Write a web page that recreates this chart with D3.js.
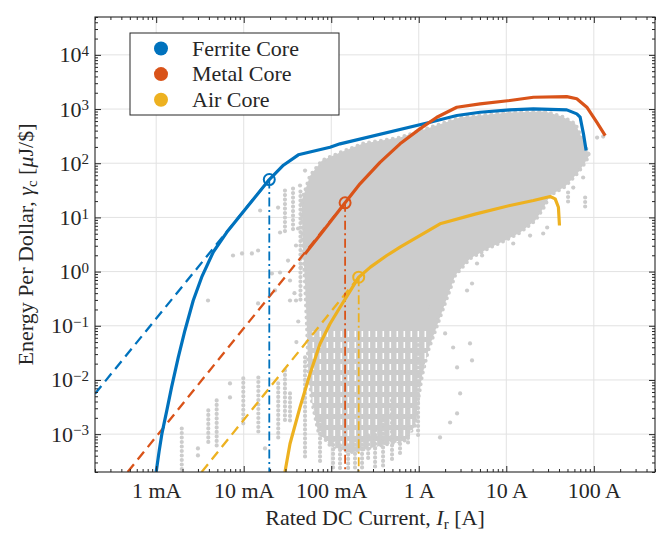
<!DOCTYPE html>
<html>
<head>
<meta charset="utf-8">
<script src="https://cdn.jsdelivr.net/npm/d3@7"></script>
<style>
  body { margin: 0; background: #fff; }
</style>
</head>
<body>
<svg id="chart" width="660" height="533"></svg>
<script>
// ---- data ----
const xTickValues = [1e-3, 1e-2, 1e-1, 1, 10, 100];
const xTickLabels = ["1 mA", "10 mA", "100 mA", "1 A", "10 A", "100 A"];
const yTickValues = [1e-3, 1e-2, 1e-1, 1, 10, 100, 1e3, 1e4];
const yTickExponents = ["\u22123", "\u22122", "\u22121", "0", "1", "2", "3", "4"];

const seriesNames = ["Ferrite Core", "Metal Core", "Air Core"];

// [current A, energy per dollar uJ/$]
const ferriteCurve = [[1.0e-3,2e-4],[1.08e-3,4.8e-4],[1.16e-3,1.0e-3],[1.32e-3,2.68e-3],[1.5e-3,7.36e-3],
  [1.79e-3,0.0264],[2.13e-3,0.0819],[2.65e-3,0.293],[3.31e-3,0.788],[4.49e-3,2.3],[6.4e-3,5.3],
  [9.08e-3,10.7],[0.0129,21.7],[0.0196,50],[0.0284,91.9],[0.0421,143],[0.0969,197],[0.126,228],
  [1.35,571],[2.72,759],[5.02,873],[11.0,966],[20.4,1008],[49.1,966],[63.9,815],[69.8,706],[76.1,349],[81.7,172]];
const metalCurve = [[0.05,2.1],[0.08,5.5],[0.144,18.6],[0.213,41.7],[0.361,104],[0.611,228],[1.03,431],
  [1.61,706],[2.72,1080],[5.02,1250],[11.0,1440],[20.4,1650],[49.1,1700],[63.9,1550],[83.2,1080],[108,571],[135,324]];
const airCurve = [[0.0296,2e-4],[0.0338,6.65e-4],[0.044,3.15e-3],[0.0573,0.013],[0.0745,0.0466],[0.0969,0.109],
  [0.126,0.22],[0.157,0.389],[0.206,0.788],[0.28,1.21],[0.431,1.98],[0.611,2.82],[1.75,7.62],[4.4,11.5],
  [11.0,16.6],[20.4,20.5],[31.7,24.3],[36.2,22.0],[39.4,15.4],[40.5,7.09]];

// quadratic asymptotes (start, marked point)
const ferriteAsym = [[2e-4,5.56e-3],[0.0196,50]];
const metalAsym = [[4.72e-4,2e-4],[0.144,18.6]];
const airAsym = [[3.31e-3,2e-4],[0.206,0.788]];

// marked points where asymptote meets curve
const markCurrents = [0.0196, 0.144, 0.206];
const markValues = [50, 18.6, 0.788];

// inductor database: dense cloud outline, streaky lower part, columns of points [I, min, max], stray points
const cloudOutline = [[0.046,20.5],[0.0573,59],[0.0785,112],[0.126,157],[0.231,231],[0.611,298],[1.35,456],
  [2.97,697],[5.02,759],[11.0,861],[27.7,899],[43.4,727],[61.1,540],[75.5,262],[88.4,139],[79.6,103],
  [66.2,67.3],[47.0,37.2],[31.7,25.4],[26.4,14.6],[21.4,8.77],[14.4,5.27],[9.7,3.75],[6.54,2.78],[3.86,1.75],
  [2.6,0.848],[2.05,0.293],[1.62,0.101],[1.28,0.035],[1.09,0.0121],[0.982,4.19e-3],[0.908,1.45e-3],
  [0.697,7.66e-4],[0.292,5.69e-4],[0.164,4.6e-4],[0.0969,6.2e-4],[0.0706,1.17e-3],[0.06,4.19e-3],
  [0.055,0.015],[0.053,0.0819],[0.05,0.685],[0.047,3.75]];
const cloudLower = [[0.053,0.08],[1.3,0.08],[1.28,0.035],[1.09,0.0121],[0.982,4.19e-3],[0.908,1.45e-3],
  [0.697,7.66e-4],[0.292,5.69e-4],[0.164,4.6e-4],[0.0969,6.2e-4],[0.0706,1.17e-3],[0.06,4.19e-3],[0.055,0.015]];
const pointColumns = [[1.96e-3,2.1e-4,1.27e-3],[3.94e-3,6.18e-4,2.74e-3],[4.91e-3,5.68e-4,4.19e-3],
  [9.89e-3,1.33e-3,0.0107],[0.0147,1.03e-3,0.0111],[0.0248,7.66e-4,8.61e-3],[0.0296,1.57e-3,0.015],
  [0.0338,1.57e-3,5.64e-3],[0.0502,3.72e-4,0.026],[0.0745,3.0e-4,1.79e-3],[0.0296,5.05,31.3],[0.0366,5.73,34.1],
  [0.0445,0.3,30],[0.105,2.33e-4,7.66e-4],[0.126,2.14e-4,6.19e-4],[0.156,2.14e-4,6.19e-4],[0.187,2.33e-4,7.66e-4],
  [0.225,2.14e-4,7.66e-4],[0.264,3.27e-4,9.46e-4],[0.317,2.14e-4,1.17e-3],[0.391,2.33e-4,1.79e-3],
  [0.495,3.0e-4,4.19e-3],[0.611,4.05e-4,7.93e-3],[0.754,6.19e-4,0.015],[0.982,8.69e-4,0.0535],
  [79.6,15.2,23.3],[50.8,18.0,28.8]];
const strayPoints = [[0.0154,13.4],[7.55e-3,1.98],[9.57e-3,2.16],[0.0124,2.16],[0.0146,2.45],[3.91e-3,0.293],
  [0.0247,15.2],[0.026,5.27],[0.0321,1.6],[0.026,0.963],[0.0338,0.685],[0.021,0.922],[0.0396,3.03],[0.0418,6.24],
  [0.044,38.8],[0.0502,73.3],[3.0e-3,5.45e-4],[3.0e-3,4.05e-4],[6.97e-3,8.61e-3],[6.97e-3,4.75e-3],
  [0.0175,5.45e-4],[0.0146,0.258],[0.0396,0.293],[109,298],[128,311],[86.1,151],[75.5,54.5],[58.2,35.6],
  [29.3,6.51],[26.4,5.05],[18.7,4.63],[12.0,3.3],[5.29,1.98],[4.63,1.41],[4.06,0.603],[3.56,0.448],
  [4.06,0.0229],[3.85,0.0472],[2.74,0.017],[2.74,2.41e-3],[2.28,1.64e-3],[1.75,8.69e-4],[1.35,0.218],
  [1.62,0.125],[2.0,0.0721],[2.47,0.0397],[2.97,5.64e-3],[0.0338,0.293],[0.0228,0.449],
  [0.042,0.12],[0.04,0.05],[0.038,0.4],[0.045,1.2]];

// ---- styles ----
const colors = ["#0072BD", "#D95319", "#EDB120"];
const gray = "#cccccc";
const ink = "#262626";
const fontSize = 22;
const serif = "'Liberation Serif', 'DejaVu Serif', 'Noto Serif', serif";

const svg = d3.select("#chart").attr("font-family", serif);
const mLeft = 95, mRight = 655, mTop = 17, mBottom = 472;

const x = d3.scaleLog().domain([2e-4, 500]).range([mLeft, mRight]);
const y = d3.scaleLog().domain([2e-4, 5e4]).range([mBottom, mTop]);

const defs = svg.append("defs");
defs.append("clipPath").attr("id", "plotClip")
  .append("rect").attr("x", mLeft).attr("y", mTop).attr("width", mRight - mLeft).attr("height", mBottom - mTop);
const streaks = defs.append("pattern").attr("id", "streaks").attr("patternUnits", "userSpaceOnUse")
  .attr("width", 7).attr("height", 11);
streaks.append("rect").attr("width", 7).attr("height", 11).attr("fill", gray);
streaks.append("rect").attr("x", 4.5).attr("y", 1).attr("width", 1.6).attr("height", 6).attr("fill", "#fff");

// grid
const grid = svg.append("g").attr("stroke", "#e2e2e2").attr("stroke-width", 1);
grid.selectAll(".gx").data(xTickValues).enter().append("line")
  .attr("x1", d => x(d)).attr("x2", d => x(d)).attr("y1", mTop).attr("y2", mBottom);
grid.selectAll(".gy").data(yTickValues).enter().append("line")
  .attr("y1", d => y(d)).attr("y2", d => y(d)).attr("x1", mLeft).attr("x2", mRight);

const plot = svg.append("g").attr("clip-path", "url(#plotClip)");
const line = d3.line().x(d => x(d[0])).y(d => y(d[1]));
const closed = d3.line().x(d => x(d[0])).y(d => y(d[1])).curve(d3.curveLinearClosed);

// scatter database
plot.append("path")
  .datum(cloudOutline)
  .attr("d", closed)
  .attr("fill", gray)
  .attr("stroke", gray)
  .attr("stroke-width", 4)
  .attr("stroke-linecap", "round")
  .attr("stroke-dasharray", "0 6");
plot.append("path").datum(cloudLower).attr("d", closed).attr("fill", "url(#streaks)");

plot.selectAll(".col").data(pointColumns).enter().append("line")
  .attr("x1", d => x(d[0])).attr("x2", d => x(d[0]))
  .attr("y1", d => y(d[2])).attr("y2", d => y(d[1]))
  .attr("stroke", gray).attr("stroke-width", 4.2)
  .attr("stroke-linecap", "round").attr("stroke-dasharray", "0 4.5");

plot.selectAll(".pt").data(strayPoints).enter().append("circle")
  .attr("cx", d => x(d[0])).attr("cy", d => y(d[1])).attr("r", 2.1).attr("fill", gray);

// asymptotes
[ferriteAsym, metalAsym, airAsym].forEach((a, i) => {
  plot.append("path").datum(a).attr("d", line)
    .attr("fill", "none").attr("stroke", colors[i]).attr("stroke-width", 2.3)
    .attr("stroke-dasharray", "10 6");
});

// vertical dash-dot markers
markCurrents.forEach((c, i) => {
  plot.append("path").datum([[c, markValues[i]], [c, 2e-4]]).attr("d", line)
    .attr("fill", "none").attr("stroke", colors[i]).attr("stroke-width", 1.8)
    .attr("stroke-dasharray", "9 3.5 2 3.5");
});

// model curves
[ferriteCurve, metalCurve, airCurve].forEach((c, i) => {
  plot.append("path").datum(c).attr("d", line)
    .attr("fill", "none").attr("stroke", colors[i]).attr("stroke-width", 3.2)
    .attr("stroke-linejoin", "round");
});

markCurrents.forEach((c, i) => {
  plot.append("circle").attr("cx", x(c)).attr("cy", y(markValues[i])).attr("r", 5.5)
    .attr("fill", "none").attr("stroke", colors[i]).attr("stroke-width", 2);
});

// axes
const minorX = x.ticks().filter(d => !xTickValues.includes(d) && d >= 2e-4 && d <= 500);
const minorY = y.ticks().filter(d => !yTickValues.includes(d));

function styleAxis(g) {
  g.select(".domain").remove();
  g.selectAll(".tick line").attr("stroke", ink);
  g.attr("font-family", serif).attr("font-size", fontSize);
  g.selectAll("text").attr("fill", ink);
}

svg.append("g").attr("transform", `translate(0,${mBottom})`)
  .call(d3.axisBottom(x).tickValues(xTickValues).tickSize(-6).tickPadding(10).tickFormat((d, i) => xTickLabels[i]))
  .call(styleAxis);
svg.append("g").attr("transform", `translate(0,${mBottom})`)
  .call(d3.axisBottom(x).tickValues(minorX).tickSize(-3).tickFormat("")).call(styleAxis);
svg.append("g").attr("transform", `translate(0,${mTop})`)
  .call(d3.axisTop(x).tickValues(xTickValues).tickSize(-6).tickFormat("")).call(styleAxis);
svg.append("g").attr("transform", `translate(0,${mTop})`)
  .call(d3.axisTop(x).tickValues(minorX).tickSize(-3).tickFormat("")).call(styleAxis);

const yAxis = svg.append("g").attr("transform", `translate(${mLeft},0)`)
  .call(d3.axisLeft(y).tickValues(yTickValues).tickSize(-6).tickPadding(6).tickFormat(""))
  .call(styleAxis);
yAxis.selectAll(".tick text").each(function(d, i) {
  const t = d3.select(this);
  t.append("tspan").text("10");
  t.append("tspan").attr("dy", "-0.42em").attr("font-size", 15).text(yTickExponents[i]);
});
svg.append("g").attr("transform", `translate(${mLeft},0)`)
  .call(d3.axisLeft(y).tickValues(minorY).tickSize(-3).tickFormat("")).call(styleAxis);
svg.append("g").attr("transform", `translate(${mRight},0)`)
  .call(d3.axisRight(y).tickValues(yTickValues).tickSize(-6).tickFormat("")).call(styleAxis);
svg.append("g").attr("transform", `translate(${mRight},0)`)
  .call(d3.axisRight(y).tickValues(minorY).tickSize(-3).tickFormat("")).call(styleAxis);

svg.append("rect").attr("x", mLeft).attr("y", mTop).attr("width", mRight - mLeft).attr("height", mBottom - mTop)
  .attr("fill", "none").attr("stroke", ink).attr("stroke-width", 1.1);

// axis labels
const xl = svg.append("text").attr("x", (mLeft + mRight) / 2).attr("y", 525)
  .attr("text-anchor", "middle").attr("font-size", fontSize).attr("fill", ink);
xl.append("tspan").text("Rated DC Current, ");
xl.append("tspan").attr("font-style", "italic").text("I");
xl.append("tspan").attr("font-size", 15).attr("dy", 4).text("r");
xl.append("tspan").attr("dy", -4).text(" [A]");

const yl = svg.append("text").attr("transform", `translate(33,${(mTop + mBottom) / 2}) rotate(-90)`)
  .attr("text-anchor", "middle").attr("font-size", fontSize).attr("fill", ink);
yl.append("tspan").text("Energy Per Dollar, ");
yl.append("tspan").attr("font-style", "italic").text("\u03b3");
yl.append("tspan").attr("font-size", 15).attr("dy", 4).text("c");
yl.append("tspan").attr("dy", -4).text(" [");
yl.append("tspan").attr("font-style", "italic").text("\u03bc");
yl.append("tspan").text("J/$]");

// legend
const legend = svg.append("g");
legend.append("rect").attr("x", 130).attr("y", 33).attr("width", 209).attr("height", 82)
  .attr("fill", "#fff").attr("stroke", ink).attr("stroke-width", 1);
const entries = legend.selectAll(".entry").data(seriesNames).enter().append("g")
  .attr("transform", (d, i) => `translate(161,${48.5 + i * 25.6})`);
entries.append("circle").attr("r", 7).attr("fill", (d, i) => colors[i]);
entries.append("text").attr("x", 31).attr("y", 7).attr("font-size", fontSize).attr("fill", ink).text(d => d);
</script>
</body>
</html>
